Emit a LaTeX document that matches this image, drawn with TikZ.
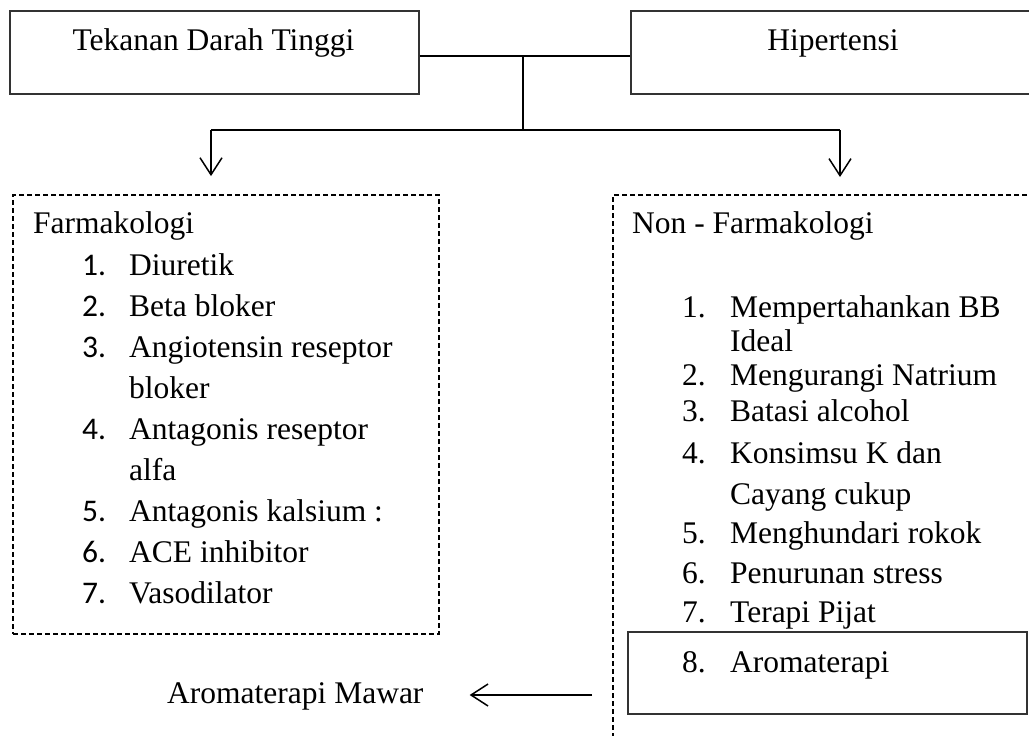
\documentclass[tikz,border=0pt]{standalone}
\usepackage{fontspec}
\setmainfont{Liberation Serif}
\newfontfamily\angka{Carlito}
\usepackage{tikz}
\usetikzlibrary{arrows.meta}
\tikzset{
  kotak/.style={draw=black!80, line width=1.3pt, inner sep=0pt},
  kotakputus/.style={draw=black, line width=1.8pt, dash pattern=on 5pt off 3pt, inner sep=0pt},
  garis/.style={line width=1.3pt, draw=black},
  garistebal/.style={line width=2pt, draw=black},
  panah/.style={line width=1.5pt, draw=black, -{Straight Barb[length=17pt,width=22pt,line width=1.5pt]}},
  teks/.style={anchor=base west, inner sep=0pt, font=\fontsize{31.5}{36}\selectfont},
  judul/.style={anchor=base, inner sep=0pt, font=\fontsize{31.5}{36}\selectfont},
}
\begin{document}
\begin{tikzpicture}[x=1pt, y=-1pt]
\useasboundingbox (0,0) rectangle (1029,736);
\node[kotak, minimum width=409pt, minimum height=83pt] (ttd) at (214.5,52.5) {};
\node[kotak, minimum width=401pt, minimum height=83pt] (hip) at (831.5,52.5) {};
\node[judul] (ttdteks) at (213.5,50) {Tekanan Darah Tinggi};
\node[judul] (hipteks) at (833,50) {Hipertensi};
\coordinate (pusat) at (523,56);
\coordinate (simpang) at (523,130);
\coordinate (kiri) at (211,130);
\coordinate (kanan) at (840,130);
\draw[garistebal] (ttd.east |- pusat) -- (hip.west |- pusat);
\draw[garis] (pusat) -- (simpang);
\draw[garistebal] (kiri) -- (kanan);
\node[kotakputus, minimum width=426pt, minimum height=439pt] (farma) at (226,414.5) {};
\coordinate (nonfarma) at (613,195);
\draw[kotakputus] (1035,195) -- (nonfarma) -- (613,740);
\draw[panah, shorten >=18pt] (kiri) -- (farma.north -| kiri);
\draw[panah, shorten >=18pt] (kanan) -- (nonfarma -| kanan);
\node[teks] (fjudul) at (33,233) {Farmakologi};
\node[teks] (fn1) at (82,275) {\angka 1.};
\node[teks] (f1) at (129,275) {Diuretik};
\node[teks] (fn2) at (82,316) {\angka 2.};
\node[teks] (f2) at (129,316) {Beta bloker};
\node[teks] (fn3) at (82,357) {\angka 3.};
\node[teks] (f3) at (129,357) {Angiotensin reseptor};
\node[teks] (f3b) at (129,398) {bloker};
\node[teks] (fn4) at (82,439) {\angka 4.};
\node[teks] (f4) at (129,439) {Antagonis reseptor};
\node[teks] (f4b) at (129,480) {alfa};
\node[teks] (fn5) at (82,521) {\angka 5.};
\node[teks] (f5) at (129,521) {Antagonis kalsium :};
\node[teks] (fn6) at (82,562) {\angka 6.};
\node[teks] (f6) at (129,562) {ACE inhibitor};
\node[teks] (fn7) at (82,603) {\angka 7.};
\node[teks] (f7) at (129,603) {Vasodilator};
\node[teks] (njudul) at (632,233) {Non - Farmakologi};
\node[teks] (nn1) at (682,317) {1.};
\node[teks] (n1) at (730,317) {Mempertahankan BB};
\node[teks] (n1b) at (730,351) {Ideal};
\node[teks] (nn2) at (682,385) {2.};
\node[teks] (n2) at (730,385) {Mengurangi Natrium};
\node[teks] (nn3) at (682,421) {3.};
\node[teks] (n3) at (730,421) {Batasi alcohol};
\node[teks] (nn4) at (682,463) {4.};
\node[teks] (n4) at (730,463) {Konsimsu K dan};
\node[teks] (n4b) at (730,504) {Cayang cukup};
\node[teks] (nn5) at (682,543) {5.};
\node[teks] (n5) at (730,543) {Menghundari rokok};
\node[teks] (nn6) at (682,583) {6.};
\node[teks] (n6) at (730,583) {Penurunan stress};
\node[teks] (nn7) at (682,622) {7.};
\node[teks] (n7) at (730,622) {Terapi Pijat};
\node[kotak, minimum width=399pt, minimum height=82pt] (aroma) at (827.5,673) {};
\node[teks] (nn8) at (682,672) {8.};
\node[teks] (n8) at (730,672) {Aromaterapi};
\node[teks] (mawar) at (167,703) {Aromaterapi Mawar};
\coordinate (awal) at (592,695);
\draw[panah, shorten >=46pt] (awal) -- (awal -| mawar.east);
\end{tikzpicture}
\end{document}
